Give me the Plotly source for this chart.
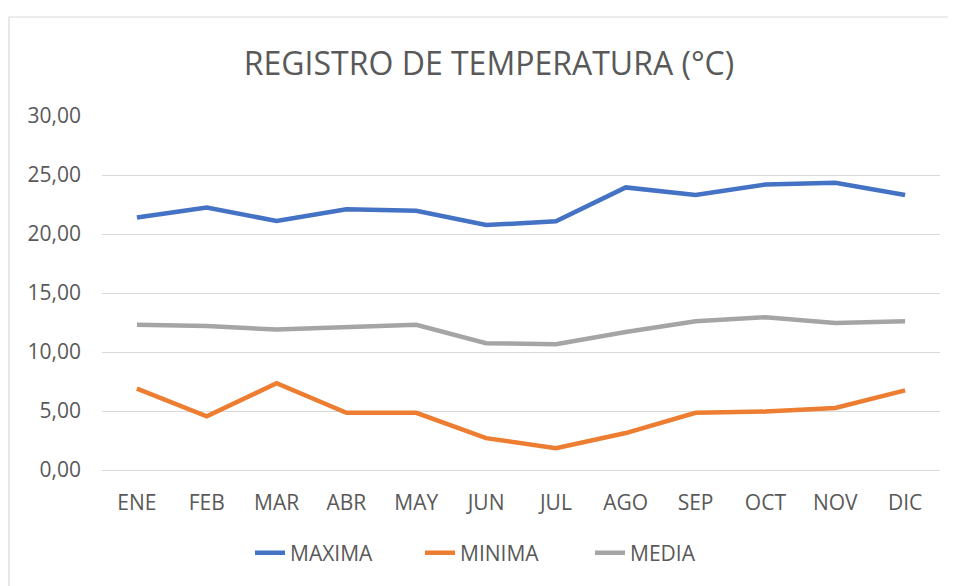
import plotly.graph_objects as go

months = ["ENE", "FEB", "MAR", "ABR", "MAY", "JUN", "JUL", "AGO", "SEP", "OCT", "NOV", "DIC"]
maxima = [21.4, 22.25, 21.1, 22.1, 21.97, 20.76, 21.07, 23.95, 23.3, 24.2, 24.35, 23.3]
minima = [6.9, 4.55, 7.35, 4.85, 4.85, 2.7, 1.85, 3.13, 4.85, 4.95, 5.25, 6.75]
media = [12.3, 12.2, 11.9, 12.1, 12.3, 10.75, 10.65, 11.7, 12.6, 12.95, 12.45, 12.6]
yticks = [0, 5, 10, 15, 20, 25, 30]

txt = "#595959"
grid = "#d9d9d9"
OFF = 8  # page body margin
W, H = 956 - OFF, 586 - OFF
ml, mr, mt, mb = 94, 16, 108, 116
pw, ph = W - ml - mr, H - mt - mb

fig = go.Figure()
for name, vals, col in [("MAXIMA", maxima, "#4472C4"),
                        ("MINIMA", minima, "#ED7D31"),
                        ("MEDIA", media, "#A5A5A5")]:
    fig.add_trace(go.Scatter(x=months, y=vals, name=name, mode="lines",
                             line=dict(color=col, width=4.5)))

def px(x):
    return (x - OFF - ml) / pw

def py(y):
    return (H - mb - (y - OFF)) / ph

fig.update_layout(
    width=W, height=H,
    margin=dict(l=ml, r=mr, t=mt, b=mb),
    paper_bgcolor="white", plot_bgcolor="white",
    separators=",.",
    font=dict(family="Open Sans, sans-serif", color=txt, size=21),
    title=dict(text="REGISTRO DE TEMPERATURA (°C)", x=(489 - OFF) / W, xanchor="center",
               y=1 - (64 - OFF) / H, yanchor="middle",
               font=dict(size=32, color=txt)),
    xaxis=dict(showgrid=False, showline=True, linecolor=grid, linewidth=1,
               range=[-0.5, 11.5],
               ticks="", ticklabelstandoff=14, tickfont=dict(size=21, color=txt)),
    yaxis=dict(range=[0, 30], tickvals=yticks, tickformat=".2f",
               showgrid=True, gridcolor=grid, gridwidth=1, zeroline=False,
               showline=False, ticks="", ticklabelstandoff=20,
               tickfont=dict(size=21, color=txt)),
    legend=dict(orientation="h", x=px(250), xanchor="left", y=py(553), yanchor="middle",
                font=dict(size=21, color=txt), tracegroupgap=0,
                entrywidth=125, entrywidthmode="pixels"),
    shapes=[dict(type="rect", xref="paper", yref="paper",
                 x0=px(9), x1=px(980), y0=py(620), y1=py(17),
                 line=dict(color=grid, width=1.2), layer="below")],
)

fig.write_html("out.html")
